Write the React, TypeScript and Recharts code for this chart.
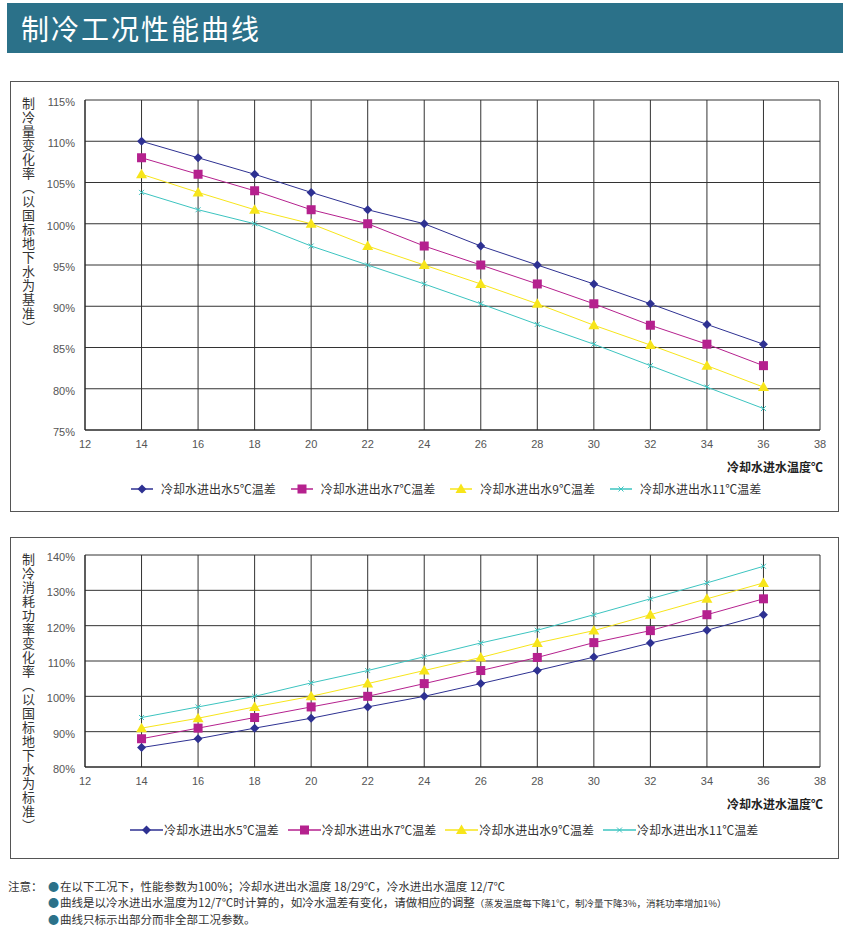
import React from 'react';
import { LineChart, Line, XAxis, YAxis, CartesianGrid } from 'recharts';

// ---- data ----
const waterTemps = [14, 16, 18, 20, 22, 24, 26, 28, 30, 32, 34, 36];
const xTicks = [12, 14, 16, 18, 20, 22, 24, 26, 28, 30, 32, 34, 36, 38];

// cooling capacity change (%)
const capacity5 = [110, 108, 106, 103.8, 101.7, 100, 97.3, 95, 92.7, 90.3, 87.8, 85.4];
const capacity7 = [108, 106, 104, 101.7, 100, 97.3, 95, 92.7, 90.3, 87.7, 85.4, 82.8];
const capacity9 = [106, 103.8, 101.7, 100, 97.3, 95, 92.7, 90.3, 87.7, 85.3, 82.8, 80.2];
const capacity11 = [103.8, 101.7, 100, 97.3, 95, 92.7, 90.3, 87.8, 85.4, 82.8, 80.2, 77.6];
const capacityTicks = [75, 80, 85, 90, 95, 100, 105, 110, 115];

// power consumption change (%)
const power5 = [85.5, 88, 91, 93.8, 97, 100, 103.6, 107.3, 111.1, 115.1, 118.7, 123.1];
const power7 = [88, 91, 94, 97, 100, 103.6, 107.3, 111, 115.2, 118.6, 123.1, 127.6];
const power9 = [91, 93.8, 97, 100, 103.6, 107.3, 111, 115.1, 118.6, 123.1, 127.6, 132.1];
const power11 = [94, 97, 100, 103.8, 107.3, 111.2, 115.1, 118.7, 123.1, 127.6, 132.1, 136.8];
const powerTicks = [80, 90, 100, 110, 120, 130, 140];

const seriesNames = ['冷却水进出水5℃温差', '冷却水进出水7℃温差', '冷却水进出水9℃温差', '冷却水进出水11℃温差'];

const SERIES = [
  { key: 'd5', color: '#2e3192', shape: 'diamond' },
  { key: 'd7', color: '#b5218e', shape: 'square' },
  { key: 'd9', color: '#f7e51a', shape: 'triangle' },
  { key: 'd11', color: '#3cc4c0', shape: 'cross' },
];

const capacityData = waterTemps.map((t, i) => ({
  t, d5: capacity5[i], d7: capacity7[i], d9: capacity9[i], d11: capacity11[i],
}));
const powerData = waterTemps.map((t, i) => ({
  t, d5: power5[i], d7: power7[i], d9: power9[i], d11: power11[i],
}));

const CJK = '"Noto Sans CJK SC", "Noto Sans", sans-serif';
const LATIN = '"Liberation Sans", Arial, sans-serif';
const TEAL = '#2b7189';

function Marker({ shape, x, y, color }: { shape: string; x: number; y: number; color: string }) {
  if (shape === 'diamond') {
    const r = 4.5;
    return <path d={`M${x},${y - r}L${x + r},${y}L${x},${y + r}L${x - r},${y}Z`} fill={color} />;
  }
  if (shape === 'square') {
    return <rect x={x - 4.5} y={y - 4.5} width={9} height={9} fill={color} />;
  }
  if (shape === 'triangle') {
    return <path d={`M${x},${y - 5.5}L${x + 5.5},${y + 4}L${x - 5.5},${y + 4}Z`} fill={color} />;
  }
  const c = 2.5;
  return (
    <g stroke={color} strokeWidth={1}>
      <line x1={x - c} y1={y - c} x2={x + c} y2={y + c} />
      <line x1={x - c} y1={y + c} x2={x + c} y2={y - c} />
    </g>
  );
}

function SeriesLegend({ top, left, iconWidth, gap, spacing }: { top: number; left: number; iconWidth: number; gap: number; spacing: number }) {
  return (
    <div style={{ position: 'absolute', top, left, display: 'flex', alignItems: 'center', height: 14 }}>
      {SERIES.map((s, i) => (
        <div key={s.key} style={{ display: 'flex', alignItems: 'center', marginRight: spacing }}>
          <svg width={iconWidth} height={12} style={{ marginRight: gap }}>
            <line x1={0} y1={6} x2={iconWidth} y2={6} stroke={s.color} strokeWidth={1.5} />
            <Marker shape={s.shape} x={iconWidth / 2} y={6} color={s.color} />
          </svg>
          <span style={{ fontFamily: CJK, fontSize: 12, color: '#333', lineHeight: '14px' }}>{seriesNames[i]}</span>
        </div>
      ))}
    </div>
  );
}

function VerticalLabel({ text, top }: { text: string; top: number }) {
  return (
    <div
      style={{
        position: 'absolute', top, left: 20, writingMode: 'vertical-rl', fontFamily: CJK,
        fontSize: 13, letterSpacing: 1, color: '#333', lineHeight: '16px',
      }}
    >
      {text}
    </div>
  );
}

function AxisTitle({ top }: { top: number }) {
  return (
    <div
      style={{
        position: 'absolute', top, right: 850 - 823, fontFamily: CJK, fontSize: 12,
        fontWeight: 700, color: '#222', lineHeight: '14px',
      }}
    >
      冷却水进水温度℃
    </div>
  );
}

function PerfChart({ data, ticks, top, height, marginTop }: { data: any[]; ticks: number[]; top: number; height: number; marginTop: number }) {
  return (
    <div style={{ position: 'absolute', top, left: 0 }}>
      <LineChart width={850} height={height} data={data} margin={{ top: marginTop, right: 30, left: 10, bottom: 0 }}>
        <CartesianGrid stroke="#333" strokeWidth={1} />
        <XAxis
          dataKey="t" type="number" domain={[12, 38]} ticks={xTicks} height={30}
          axisLine={{ stroke: '#222' }} tickLine={false} tickMargin={4}
          tick={{ fill: '#555', fontSize: 11, fontFamily: LATIN }} interval={0}
        />
        <YAxis
          type="number" domain={[ticks[0], ticks[ticks.length - 1]]} ticks={ticks} width={75}
          axisLine={{ stroke: '#222' }} tickLine={false} tickMargin={4}
          tick={{ fill: '#555', fontSize: 11, fontFamily: LATIN, dy: 2 }}
          tickFormatter={(v: number) => `${v}%`} interval={0}
        />
        {SERIES.map((s) => (
          <Line
            key={s.key} type="linear" dataKey={s.key} stroke={s.color} strokeWidth={1}
            isAnimationActive={false} activeDot={false}
            dot={(p: any) => <Marker key={`${s.key}-${p.index}`} shape={s.shape} x={p.cx} y={p.cy} color={s.color} />}
          />
        ))}
      </LineChart>
    </div>
  );
}

function Bullet() {
  return <span style={{ color: TEAL, fontSize: 11, marginRight: 1 }}>●</span>;
}

export default function App() {
  return (
    <div style={{ position: 'absolute', left: 0, top: 0, width: 850, height: 928, background: '#fff', fontFamily: CJK }}>
      <div
        style={{
          position: 'absolute', left: 7, top: 3, width: 836, height: 50, background: TEAL, color: '#fff',
          fontSize: 28, lineHeight: '50px', paddingLeft: 14, boxSizing: 'border-box', fontWeight: 400, letterSpacing: 2,
        }}
      >
        制冷工况性能曲线
      </div>

      {/* cooling capacity */}
      <div style={{ position: 'absolute', left: 10, top: 81, width: 829, height: 431, border: '1px solid #555', boxSizing: 'border-box' }} />
      <VerticalLabel text="制冷量变化率（以国标地下水为基准）" top={97} />
      <PerfChart data={capacityData} ticks={capacityTicks} top={81} height={379} marginTop={19} />
      <AxisTitle top={460} />
      <SeriesLegend top={482} left={131} iconWidth={22} gap={8} spacing={15} />

      {/* power consumption */}
      <div style={{ position: 'absolute', left: 10, top: 537, width: 829, height: 322, border: '1px solid #555', boxSizing: 'border-box' }} />
      <VerticalLabel text="制冷消耗功率变化率（以国标地下水为标准）" top={553} />
      <PerfChart data={powerData} ticks={powerTicks} top={537} height={260} marginTop={18} />
      <AxisTitle top={797} />
      <SeriesLegend top={823} left={130} iconWidth={33} gap={1} spacing={9} />

      {/* notes */}
      <div style={{ position: 'absolute', left: 8, top: 878, fontSize: 11.5, color: '#333', lineHeight: '16px' }}>
        <div style={{ display: 'flex' }}>
          <span style={{ width: 40 }}>注意：</span>
          <span><Bullet />在以下工况下，性能参数为100%；冷却水进出水温度 18/29℃，冷水进出水温度 12/7℃</span>
        </div>
        <div style={{ paddingLeft: 40 }}>
          <Bullet />曲线是以冷水进出水温度为12/7℃时计算的，如冷水温差有变化，请做相应的调整
          <span style={{ fontSize: 9.5 }}>（蒸发温度每下降1℃，制冷量下降3%，消耗功率增加1%）</span>
        </div>
        <div style={{ paddingLeft: 40 }}>
          <Bullet />曲线只标示出部分而非全部工况参数。
        </div>
      </div>
    </div>
  );
}
